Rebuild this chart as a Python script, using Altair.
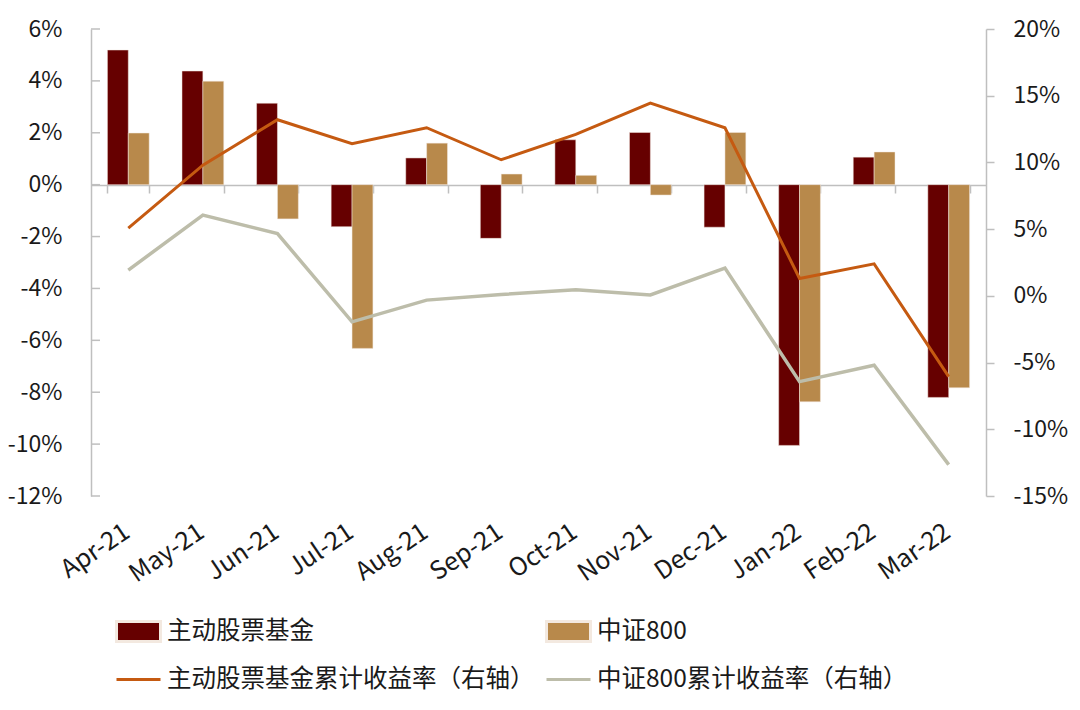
import altair as alt
import pandas as pd

months = ["Apr-21", "May-21", "Jun-21", "Jul-21", "Aug-21", "Sep-21",
          "Oct-21", "Nov-21", "Dec-21", "Jan-22", "Feb-22", "Mar-22"]
fund_monthly = [5.19, 4.38, 3.14, -1.62, 1.03, -2.07, 1.73, 2.01, -1.64, -10.05, 1.06, -8.20]
csi_monthly = [1.99, 3.99, -1.32, -6.31, 1.60, 0.41, 0.36, -0.40, 2.01, -8.37, 1.26, -7.83]
fund_cum = [5.08, 9.80, 13.20, 11.40, 12.60, 10.20, 12.10, 14.45, 12.60, 1.30, 2.40, -6.05]
csi_cum = [1.93, 6.05, 4.67, -1.95, -0.32, 0.10, 0.45, 0.07, 2.08, -6.43, -5.20, -12.65]

S_FUND = "主动股票基金"
S_CSI = "中证800"
S_FUND_CUM = "主动股票基金累计收益率（右轴）"
S_CSI_CUM = "中证800累计收益率（右轴）"

left_ticks = [-12, -10, -8, -6, -4, -2, 0, 2, 4, 6]
right_ticks = [-15, -10, -5, 0, 5, 10, 15, 20]

C_DARK = "#660000"
C_LIGHT = "#B8894B"
C_ORANGE = "#C55A11"
C_GRAY = "#BDBDAA"
AXIS_GRAY = "#BFBFBF"
TEXT = "#1a1a1a"
FONT = "Noto Sans CJK SC"

W, H = 895, 467


def frame(series, vals):
    return pd.DataFrame({"month": months, "series": series, "value": vals})


x_scale = alt.Scale(domain=months, paddingInner=0.44, paddingOuter=0.22)
label_axis = alt.Axis(title=None, orient="bottom", labelAngle=-34, labelFontSize=25,
                      domain=False, ticks=False, labelPadding=23, labelOffset=-8,
                      labelColor=TEXT, labelFont=FONT)
zero_axis = alt.Axis(title=None, orient="bottom", labels=False, offset=-311,
                     domainColor=AXIS_GRAY, domainWidth=1.5, tickColor=AXIS_GRAY,
                     tickWidth=1.5, tickSize=8, tickBand="extent")

y_left = alt.Scale(domain=[-12, 6], nice=False, zero=False)
y_right = alt.Scale(domain=[-15, 20], nice=False, zero=False)

left_axis = alt.Axis(title=None, values=left_ticks, labelExpr="datum.value + '%'",
                     grid=False, ticks=False, domainColor=AXIS_GRAY, domainWidth=1.5,
                     labelFontSize=23, labelPadding=29, labelColor=TEXT, labelFont=FONT)
right_axis = alt.Axis(title=None, orient="right", values=right_ticks,
                      labelExpr="datum.value + '%'", grid=False, tickSize=8,
                      tickColor=AXIS_GRAY, tickWidth=1.5, domainColor=AXIS_GRAY,
                      domainWidth=1.5, labelFontSize=23, labelPadding=19,
                      labelColor=TEXT, labelFont=FONT)

RECT = "M-1,-0.4545H1V0.4545H-1Z"


def legend(x, y, stype):
    return alt.Legend(title=None, orient="none", legendX=x, legendY=y,
                      symbolType=stype, symbolSize=1936, symbolStrokeWidth=3,
                      labelFontSize=24.5, labelFont=FONT, labelColor=TEXT,
                      labelOffset=5, padding=0, labelLimit=600)


def bar_layer(series, vals, colour, lx, ly):
    return alt.Chart(frame(series, vals)).mark_bar(stroke="#f3e9e0", strokeWidth=0.5).encode(
        x=alt.X("month:N", sort=months, scale=x_scale, axis=label_axis),
        xOffset=alt.XOffset("series:N", scale=alt.Scale(domain=[S_FUND, S_CSI])),
        y=alt.Y("value:Q", scale=y_left, axis=left_axis),
        color=alt.Color("series:N", scale=alt.Scale(domain=[series], range=[colour]),
                        legend=legend(lx, ly, RECT)),
    )


def line_layer(series, vals, colour, width, lx, ly):
    return alt.Chart(frame(series, vals)).mark_line(strokeWidth=width).encode(
        x=alt.X("month:N", sort=months, scale=x_scale, axis=zero_axis),
        y=alt.Y("value:Q", scale=y_right, axis=right_axis),
        color=alt.Color("series:N", scale=alt.Scale(domain=[series], range=[colour]),
                        legend=legend(lx, ly, "stroke")),
    )


inner_ticks = alt.Chart(pd.DataFrame({"value": left_ticks})).mark_rule(
    color=AXIS_GRAY, strokeWidth=1.5).encode(
    y=alt.Y("value:Q", scale=y_left, axis=left_axis),
    x=alt.value(0), x2=alt.value(9))

bars = alt.layer(
    bar_layer(S_FUND, fund_monthly, C_DARK, 24, 579),
    bar_layer(S_CSI, csi_monthly, C_LIGHT, 454, 579),
    inner_ticks,
).resolve_scale(color="independent")

lines = alt.layer(
    line_layer(S_CSI_CUM, csi_cum, C_GRAY, 3.5, 454, 627),
    line_layer(S_FUND_CUM, fund_cum, C_ORANGE, 3, 24, 627),
).resolve_scale(color="independent")

chart = alt.layer(bars, lines).resolve_scale(
    y="independent", color="independent"
).resolve_axis(x="independent").properties(
    width=W, height=H,
    padding={"left": 83, "top": 21, "right": 86, "bottom": 200},
    autosize=alt.AutoSizeParams(type="none"),
).configure(font=FONT).configure_view(stroke=None)

chart.save("out.html", embed_options={"renderer": "svg", "actions": False})
